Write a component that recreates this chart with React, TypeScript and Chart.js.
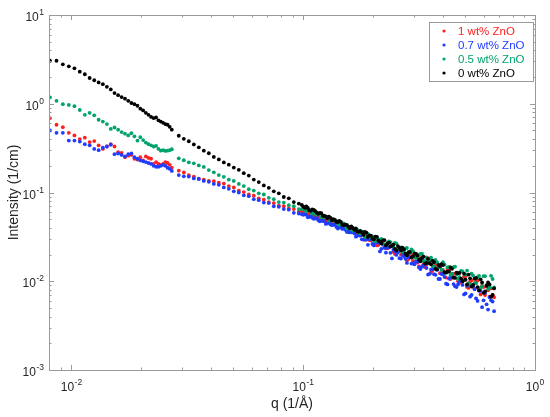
import { useEffect, useRef } from 'react'
import Chart from 'chart.js/auto'
import type { ChartConfiguration, Plugin } from 'chart.js'

// q values (1/Å): low-q setting, high-q setting, and the extra high-q frames
const qLow = [
  0.00808, 0.00862, 0.00918, 0.00974, 0.0103, 0.01086, 0.01142, 0.01198, 0.01254, 0.0131,
  0.01366, 0.01422, 0.01478, 0.01534, 0.0159, 0.01646, 0.01702, 0.01758, 0.01814, 0.0187,
  0.01926, 0.01982, 0.02038, 0.02094, 0.0215, 0.02206, 0.02262, 0.02318, 0.02374, 0.0243,
  0.02486, 0.02542, 0.02598, 0.02654, 0.0271,
]
const qHigh = [
  0.02904, 0.03053, 0.03209, 0.03373, 0.03544, 0.03724, 0.03914, 0.04114, 0.04323, 0.04543,
  0.04774, 0.05017, 0.05273, 0.0554, 0.05823, 0.06119, 0.0643, 0.06761, 0.07104, 0.07465,
  0.07846, 0.08245, 0.08665, 0.09108, 0.09572,
  0.0986, 0.1016, 0.1047, 0.1078, 0.1111, 0.1145, 0.1179, 0.1215, 0.1252, 0.129,
  0.1329, 0.1369, 0.1411, 0.1453, 0.1497, 0.1543, 0.1589, 0.1638, 0.1687, 0.1738,
  0.1791, 0.1845, 0.1901, 0.1959, 0.2018, 0.2079, 0.2142, 0.2207, 0.2274, 0.2343,
  0.2414, 0.2487, 0.2562, 0.264, 0.272, 0.2802, 0.2887, 0.2975, 0.3065, 0.3158,
  0.3253, 0.3352, 0.3453, 0.3558, 0.3666, 0.3777, 0.3891, 0.4009, 0.4131, 0.4256,
  0.4385, 0.4518, 0.4655, 0.4796, 0.4941, 0.5091, 0.5245, 0.5404, 0.5568, 0.5736,
  0.591, 0.6089, 0.6274, 0.6464, 0.666,
]
const qMid = [
  0.1001, 0.1031, 0.1062, 0.1094, 0.1128, 0.1162, 0.1197, 0.1233, 0.1271, 0.1309,
  0.1349, 0.139, 0.1432, 0.1475, 0.152, 0.1566, 0.1613, 0.1662, 0.1712, 0.1764,
  0.1818, 0.1873, 0.193, 0.1988, 0.2048, 0.211, 0.2174, 0.224, 0.2308, 0.2378,
  0.245, 0.2524, 0.2601, 0.268, 0.2761, 0.2844, 0.2931, 0.302, 0.3111, 0.3205,
  0.3302, 0.3402, 0.3505, 0.3612, 0.3721, 0.3834, 0.395, 0.407, 0.4193, 0.432,
  0.4451, 0.4586, 0.4725, 0.4868, 0.5016, 0.5168, 0.5324, 0.5486, 0.5652, 0.5823,
  0.5999, 0.6181, 0.6369, 0.6562,
]

// intensity (1/cm), 1 wt% ZnO
const redLow = [
  0.69, 0.58, 0.545, 0.47, 0.44, 0.4, 0.415, 0.37, 0.38, 0.34, 0.31, 0.33, 0.35, 0.33, 0.285,
  0.28, 0.25, 0.26, 0.265, 0.24, 0.235, 0.25, 0.23, 0.255, 0.245, 0.24, 0.21, 0.22, 0.21, 0.205,
  0.21, 0.22, 0.215, 0.205, 0.19,
]
const redHigh = [
  0.176, 0.168, 0.157, 0.151, 0.143, 0.14, 0.135, 0.134, 0.129, 0.126, 0.118, 0.114, 0.105,
  0.101, 0.095, 0.092, 0.086, 0.083, 0.078, 0.076, 0.071, 0.07, 0.066, 0.065, 0.061,
  0.0611, 0.0611, 0.0565, 0.057, 0.0537, 0.0549, 0.051, 0.0512, 0.0475, 0.0488,
  0.0464, 0.044, 0.0449, 0.0417, 0.0415, 0.0379, 0.0388, 0.0361, 0.0366, 0.0333,
  0.0338, 0.0293, 0.0334, 0.0289, 0.0304, 0.0253, 0.0277, 0.0282, 0.0235, 0.024,
  0.0256, 0.0203, 0.023, 0.02, 0.0228, 0.0172, 0.0201, 0.017, 0.0204, 0.0147,
  0.0183, 0.0144, 0.0182, 0.0125, 0.0156, 0.015, 0.0123, 0.0134, 0.011, 0.0136,
  0.0111, 0.0122, 0.01, 0.0105, 0.0113, 0.0086, 0.0099, 0.0087, 0.0099, 0.0079,
  0.0089, 0.007, 0.0079, 0.0083, 0.0066,
]
const redMid = [
  0.0612, 0.0578, 0.0576, 0.0558, 0.0535, 0.0533, 0.0508, 0.0489, 0.0488, 0.0472,
  0.0452, 0.0453, 0.0422, 0.0417, 0.0399, 0.0393, 0.037, 0.0356, 0.0352, 0.0328,
  0.0339, 0.0317, 0.0291, 0.0308, 0.0277, 0.0257, 0.028, 0.0255, 0.0236, 0.025,
  0.0214, 0.0229, 0.023, 0.0197, 0.0202, 0.0178, 0.0198, 0.0188, 0.0162, 0.0182,
  0.0155, 0.0154, 0.0165, 0.0133, 0.0147, 0.015, 0.0123, 0.0123, 0.0138, 0.0106,
  0.0121, 0.012, 0.0096, 0.0099, 0.0114, 0.0084, 0.0102, 0.0083, 0.0102, 0.0071,
  0.0086, 0.0087, 0.0067, 0.007,
]

// 0.7 wt% ZnO
const blueLow = [
  0.5, 0.47, 0.47, 0.385, 0.385, 0.375, 0.35, 0.34, 0.31, 0.3, 0.32, 0.33, 0.345, 0.27, 0.275,
  0.265, 0.255, 0.27, 0.275, 0.25, 0.24, 0.23, 0.225, 0.22, 0.215, 0.21, 0.2, 0.195, 0.195, 0.2,
  0.205, 0.2, 0.19, 0.185, 0.175,
]
const blueHigh = [
  0.157, 0.152, 0.151, 0.144, 0.142, 0.135, 0.132, 0.125, 0.122, 0.114, 0.11, 0.103, 0.1,
  0.093, 0.091, 0.084, 0.082, 0.077, 0.076, 0.07, 0.069, 0.065, 0.064, 0.059, 0.058,
  0.057, 0.0571, 0.0525, 0.0542, 0.0506, 0.0519, 0.0474, 0.0478, 0.0442, 0.0465,
  0.0428, 0.0436, 0.0392, 0.0403, 0.0401, 0.036, 0.0356, 0.0363, 0.0318, 0.0331,
  0.0297, 0.032, 0.0257, 0.0299, 0.0253, 0.0283, 0.0217, 0.0258, 0.021, 0.0242,
  0.0181, 0.0218, 0.0212, 0.018, 0.0191, 0.0161, 0.0186, 0.0159, 0.0167, 0.0143,
  0.0146, 0.0158, 0.0119, 0.0135, 0.012, 0.0134, 0.0106, 0.012, 0.0094, 0.0107,
  0.0111, 0.0088, 0.0092, 0.0102, 0.0071, 0.0089, 0.0067, 0.0087, 0.0064, 0.0078,
  0.0051, 0.0074, 0.0048, 0.0061, 0.0046,
]
const blueMid = [
  0.056, 0.056, 0.0531, 0.0519, 0.0513, 0.0486, 0.0482, 0.0474, 0.0449, 0.0439,
  0.0433, 0.0409, 0.0409, 0.0389, 0.038, 0.0359, 0.0356, 0.0346, 0.0326, 0.0326,
  0.0295, 0.0294, 0.0298, 0.0263, 0.0272, 0.0273, 0.0232, 0.0238, 0.0238, 0.0209,
  0.0227, 0.0198, 0.0182, 0.0198, 0.0179, 0.0188, 0.0158, 0.0155, 0.0166, 0.0137,
  0.0151, 0.0141, 0.0121, 0.0138, 0.0118, 0.0106, 0.0121, 0.0112, 0.0092, 0.0113,
  0.0093, 0.0086, 0.01, 0.0091, 0.0073, 0.0092, 0.007, 0.0081, 0.006, 0.0078,
  0.0061, 0.0055, 0.0066, 0.0059,
]

// 0.5 wt% ZnO
const greenLow = [
  1.18, 1.08, 0.99, 0.97, 0.94, 0.85, 0.75, 0.79, 0.74, 0.66, 0.63, 0.59, 0.52, 0.54, 0.51,
  0.48, 0.46, 0.44, 0.465, 0.43, 0.385, 0.42, 0.39, 0.365, 0.35, 0.34, 0.33, 0.335, 0.31, 0.296,
  0.3, 0.294, 0.296, 0.3, 0.307,
]
const greenHigh = [
  0.243, 0.231, 0.219, 0.213, 0.202, 0.194, 0.179, 0.169, 0.157, 0.15, 0.14, 0.135, 0.125,
  0.118, 0.109, 0.105, 0.098, 0.095, 0.087, 0.084, 0.078, 0.077, 0.072, 0.07, 0.065,
  0.0648, 0.0642, 0.0642, 0.0588, 0.0594, 0.0565, 0.0571, 0.0527, 0.0533, 0.0492,
  0.0498, 0.049, 0.0451, 0.0444, 0.045, 0.0394, 0.0408, 0.0371, 0.0395, 0.035,
  0.0359, 0.0316, 0.0341, 0.0314, 0.0288, 0.0314, 0.0283, 0.0293, 0.0255, 0.0281,
  0.0253, 0.0271, 0.0232, 0.0241, 0.021, 0.0237, 0.0208, 0.0219, 0.0182, 0.0199,
  0.0204, 0.017, 0.0172, 0.0185, 0.0147, 0.0164, 0.0143, 0.0164, 0.0124, 0.0145,
  0.0122, 0.0146, 0.0106, 0.0131, 0.0104, 0.0132, 0.0092, 0.0116, 0.0095, 0.0115,
  0.0088, 0.0114, 0.0082, 0.0115, 0.0085,
]
const greenMid = [
  0.0657, 0.0612, 0.0631, 0.0583, 0.0573, 0.0573, 0.0529, 0.0535, 0.0529, 0.0489,
  0.048, 0.0478, 0.0434, 0.045, 0.0418, 0.0412, 0.0382, 0.0388, 0.0379, 0.0348,
  0.036, 0.0318, 0.0316, 0.0321, 0.0283, 0.0297, 0.0301, 0.026, 0.027, 0.0275,
  0.0244, 0.0266, 0.0233, 0.0216, 0.0235, 0.0214, 0.0228, 0.0192, 0.0188, 0.0203,
  0.0169, 0.0186, 0.0174, 0.015, 0.0174, 0.0148, 0.0134, 0.0154, 0.0143, 0.0118,
  0.0144, 0.0119, 0.0111, 0.0129, 0.0119, 0.0095, 0.0122, 0.0095, 0.0111, 0.0084,
  0.0114, 0.0091, 0.0085, 0.0106,
]

// 0 wt% ZnO
const blackLow = [
  3.05, 3.05, 2.78, 2.64, 2.51, 2.3, 2.15, 1.95, 1.84, 1.74, 1.66, 1.55, 1.45, 1.32, 1.25, 1.19,
  1.14, 1.08, 1.02, 0.99, 0.95, 0.88, 0.84, 0.79, 0.75, 0.71, 0.69, 0.7, 0.65, 0.63, 0.61, 0.59,
  0.58, 0.55, 0.51,
]
const blackHigh = [
  0.436, 0.402, 0.378, 0.348, 0.323, 0.296, 0.277, 0.252, 0.236, 0.218, 0.206, 0.191, 0.18,
  0.165, 0.155, 0.14, 0.131, 0.12, 0.113, 0.103, 0.098, 0.089, 0.086, 0.078, 0.075,
  0.0725, 0.0673, 0.067, 0.0622, 0.0638, 0.0592, 0.0589, 0.0547, 0.0539, 0.0536,
  0.0488, 0.0491, 0.0464, 0.0467, 0.0429, 0.0431, 0.0396, 0.0398, 0.0392, 0.0361,
  0.0356, 0.036, 0.0315, 0.0326, 0.0297, 0.0317, 0.028, 0.0287, 0.0253, 0.0273,
  0.0251, 0.0231, 0.0249, 0.0222, 0.0228, 0.0196, 0.0214, 0.0191, 0.0203, 0.0175,
  0.0182, 0.0158, 0.0179, 0.0155, 0.0164, 0.0136, 0.0148, 0.0152, 0.0126, 0.0129,
  0.0138, 0.0109, 0.0123, 0.0107, 0.0122, 0.0092, 0.0108, 0.0091, 0.0109, 0.0079,
  0.0097, 0.0077, 0.0097, 0.0067, 0.0083,
]
const blackMid = [
  0.0692, 0.0695, 0.0632, 0.0643, 0.0615, 0.0576, 0.0585, 0.0544, 0.0514, 0.0522,
  0.05, 0.0468, 0.0479, 0.0433, 0.0435, 0.0412, 0.0414, 0.038, 0.0364, 0.0369,
  0.0333, 0.0352, 0.0329, 0.0302, 0.0319, 0.0288, 0.0267, 0.029, 0.0265, 0.0246,
  0.0259, 0.0222, 0.0238, 0.0239, 0.0204, 0.021, 0.0185, 0.0206, 0.0194, 0.0168,
  0.0189, 0.0161, 0.016, 0.0171, 0.0138, 0.0153, 0.0156, 0.0127, 0.0128, 0.0143,
  0.011, 0.0125, 0.0124, 0.01, 0.0104, 0.0119, 0.0087, 0.0107, 0.0086, 0.0105,
  0.0074, 0.0089, 0.0092, 0.007,
]

const seriesLabels = ['1 wt% ZnO', '0.7 wt% ZnO', '0.5 wt% ZnO', '0 wt% ZnO']
const seriesColors = ['#ff1f1f', '#1f3dff', '#00a36a', '#000000']

const xMajorTicks = [0.01, 0.1, 1]
const yMajorTicks = [0.001, 0.01, 0.1, 1, 10]
const xTitle = 'q (1/Å)'
const yTitle = 'Intensity (1/cm)'

const FONT = "'Liberation Sans', Arial, Helvetica, sans-serif"
const AXIS_GRAY = '#9a9a9a'
const TEXT_DARK = '#262626'

const toPoints = (q: number[], vals: number[]) => q.map((x, i) => ({ x, y: vals[i] }))

const minorValues = (lo: number, hi: number) => {
  const out: number[] = []
  for (let d = Math.floor(Math.log10(lo)); d < Math.ceil(Math.log10(hi)); d++) {
    for (let m = 2; m <= 9; m++) {
      const v = m * Math.pow(10, d)
      if (v > lo && v < hi) out.push(v)
    }
  }
  return out
}

// draws a "10^n" label; align = 'center' or 'right' around x
const drawPower = (ctx: CanvasRenderingContext2D, v: number, x: number, y: number, align: 'center' | 'right') => {
  const exp = String(Math.round(Math.log10(v)))
  ctx.font = `12px ${FONT}`
  const baseW = ctx.measureText('10').width
  ctx.font = `8.5px ${FONT}`
  const expW = ctx.measureText(exp).width
  const total = baseW + expW + 0.5
  const left = align === 'center' ? x - total / 2 : x - total
  ctx.textAlign = 'left'
  ctx.textBaseline = 'alphabetic'
  ctx.font = `12px ${FONT}`
  ctx.fillText('10', left, y)
  ctx.font = `8.5px ${FONT}`
  ctx.fillText(exp, left + baseW + 0.5, y - 6)
}

const matlabAxes: Plugin<'scatter'> = {
  id: 'matlabAxes',
  afterDraw(chart) {
    const { ctx, chartArea } = chart
    const { left, right, top, bottom } = chartArea
    const xs = chart.scales.x
    const ys = chart.scales.y
    ctx.save()

    // box
    ctx.strokeStyle = AXIS_GRAY
    ctx.lineWidth = 1
    ctx.strokeRect(Math.round(left) + 0.5, Math.round(top) + 0.5, Math.round(right - left), Math.round(bottom - top))

    // ticks, pointing inward on all four sides
    const tick = (len: number, vx: number[], vy: number[]) => {
      ctx.beginPath()
      vx.forEach((v) => {
        const px = Math.round(xs.getPixelForValue(v)) + 0.5
        ctx.moveTo(px, bottom)
        ctx.lineTo(px, bottom - len)
        ctx.moveTo(px, top)
        ctx.lineTo(px, top + len)
      })
      vy.forEach((v) => {
        const py = Math.round(ys.getPixelForValue(v)) + 0.5
        ctx.moveTo(left, py)
        ctx.lineTo(left + len, py)
        ctx.moveTo(right, py)
        ctx.lineTo(right - len, py)
      })
      ctx.stroke()
    }
    tick(5, xMajorTicks, yMajorTicks)
    tick(2.5, minorValues(xs.min, xs.max), minorValues(ys.min, ys.max))

    // tick labels
    ctx.fillStyle = TEXT_DARK
    xMajorTicks.forEach((v) => drawPower(ctx, v, xs.getPixelForValue(v), bottom + 21, 'center'))
    yMajorTicks.forEach((v) => drawPower(ctx, v, left - 5, ys.getPixelForValue(v) + 6, 'right'))

    // axis titles
    ctx.font = `14px ${FONT}`
    ctx.textAlign = 'center'
    ctx.textBaseline = 'alphabetic'
    ctx.fillText(xTitle, (left + right) / 2, bottom + 38)
    ctx.save()
    ctx.translate(18, (top + bottom) / 2)
    ctx.rotate(-Math.PI / 2)
    ctx.fillText(yTitle, 0, 0)
    ctx.restore()

    // legend box
    const lx = 429.5
    const ly = 22.5
    const lw = 104
    const lh = 59
    ctx.fillStyle = '#ffffff'
    ctx.fillRect(lx, ly, lw, lh)
    ctx.strokeStyle = AXIS_GRAY
    ctx.strokeRect(lx, ly, lw, lh)
    ctx.font = `11.5px ${FONT}`
    ctx.textAlign = 'left'
    ctx.textBaseline = 'middle'
    seriesLabels.forEach((label, i) => {
      const cy = 31 + i * 14
      ctx.fillStyle = seriesColors[i]
      ctx.beginPath()
      ctx.arc(444, cy, 1.6, 0, Math.PI * 2)
      ctx.fill()
      ctx.fillText(label, 458, cy + 0.5)
    })

    ctx.restore()
  },
}

export default function SaxsZnOChart() {
  const canvasRef = useRef<HTMLCanvasElement>(null)
  const chartRef = useRef<Chart | null>(null)

  useEffect(() => {
    if (!canvasRef.current) return
    const ctx = canvasRef.current.getContext('2d')
    if (!ctx) return

    if (chartRef.current) {
      chartRef.current.destroy()
    }

    const lows = [redLow, blueLow, greenLow, blackLow]
    const highs = [redHigh, blueHigh, greenHigh, blackHigh]
    const mids = [redMid, blueMid, greenMid, blackMid]

    const config: ChartConfiguration<'scatter'> = {
      type: 'scatter',
      data: {
        datasets: seriesLabels.map((label, i) => ({
          label,
          data: [
            ...toPoints(qLow, lows[i]),
            ...toPoints(qHigh, highs[i]),
            ...toPoints(qMid, mids[i]),
          ],
          backgroundColor: seriesColors[i],
          borderWidth: 0,
          pointRadius: 1.9,
          pointHoverRadius: 1.9,
          // MATLAB draws the last series on top
          order: seriesLabels.length - 1 - i,
        })),
      },
      options: {
        responsive: true,
        maintainAspectRatio: false,
        animation: false,
        events: [],
        layout: {
          padding: { left: 49, top: 15, right: 15, bottom: 47 },
        },
        plugins: {
          legend: { display: false },
          tooltip: { enabled: false },
        },
        scales: {
          x: { type: 'logarithmic', min: 0.008, max: 1, display: false },
          y: { type: 'logarithmic', min: 0.001, max: 10, display: false },
        },
      },
      plugins: [matlabAxes],
    }

    chartRef.current = new Chart(ctx, config)

    return () => {
      if (chartRef.current) {
        chartRef.current.destroy()
        chartRef.current = null
      }
    }
  }, [])

  return (
    <div style={{ position: 'absolute', left: 0, top: 0, width: 550, height: 417, background: '#ffffff' }}>
      <canvas ref={canvasRef} />
    </div>
  )
}
